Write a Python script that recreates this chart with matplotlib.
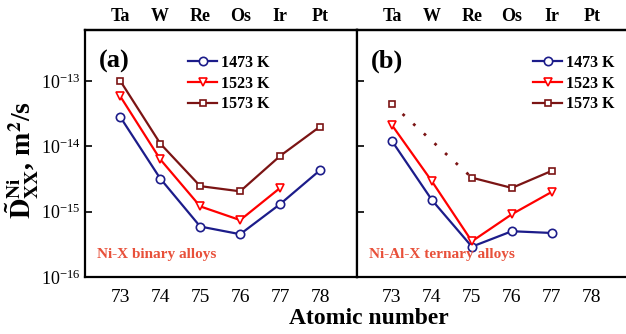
import matplotlib.pyplot as plt

plt.rcParams['font.family'] = ['Liberation Serif', 'DejaVu Serif']
plt.rcParams['mathtext.fontset'] = 'stix'

# atomic numbers and elements
z = [73, 74, 75, 76, 77, 78]
elements = ['Ta', 'W', 'Re', 'Os', 'Ir', 'Pt']

# (a) Ni-X binary alloys
bin_1473 = [2.8e-14, 3.2e-15, 5.9e-16, 4.5e-16, 1.3e-15, 4.3e-15]
bin_1523 = [5.8e-14, 6.3e-15, 1.2e-15, 7.4e-16, 2.3e-15]
bin_1573 = [1.0e-13, 1.1e-14, 2.45e-15, 2.04e-15, 7.1e-15, 2.0e-14]

# (b) Ni-Al-X ternary alloys
ter_1473 = [1.2e-14, 1.5e-15, 2.9e-16, 5.0e-16, 4.7e-16]
ter_1523 = [2.1e-14, 2.9e-15, 3.5e-16, 9.1e-16, 2.0e-15]
ter_1573_z = [75, 76, 77]
ter_1573 = [3.3e-15, 2.3e-15, 4.2e-15]
ter_1573_ta = 4.4e-14

c1 = '#1c1c8a'
c2 = '#ff0000'
c3 = '#7b1414'
txtc = '#e8503a'

fig = plt.figure(figsize=(6.26, 3.34), dpi=100)
ax1 = fig.add_axes([0.136, 0.171, 0.434, 0.739])
ax2 = fig.add_axes([0.570, 0.171, 0.434, 0.739])

st = dict(lw=1.6, ms=6, mew=1.2, mfc='white')
sq = dict(lw=1.6, ms=5, mew=1.2, mfc='white')

ax1.plot(z, bin_1473, '-o', color=c1, label='1473 K', **st)
ax1.plot(z[:5], bin_1523, '-v', color=c2, label='1523 K', **st)
ax1.plot(z, bin_1573, '-s', color=c3, label='1573 K', **sq)

ax2.plot(z[:5], ter_1473, '-o', color=c1, label='1473 K', **st)
ax2.plot(z[:5], ter_1523, '-v', color=c2, label='1523 K', **st)
ax2.plot(ter_1573_z, ter_1573, '-s', color=c3, label='1573 K', **sq)
ax2.plot([73, 75], [ter_1573_ta, ter_1573[0]], color=c3, lw=2, ls=(0, (1, 4.2)))
ax2.plot([73], [ter_1573_ta], 's', color=c3, ms=5, mew=1.2, mfc='white')

for ax, xa in ((ax1, 0.72), (ax2, 0.99)):
    ax.set_yscale('log')
    ax.set_xlim(72.12, 78.92)
    ax.set_ylim(1e-16, 6e-13)
    ax.set_xticks(z)
    ax.set_xticklabels([str(v) for v in z], fontsize=14)
    ax.set_yticks([1e-16, 1e-15, 1e-14, 1e-13])
    ax.minorticks_off()
    ax.tick_params(axis='y', direction='in', length=5, width=1.2, labelsize=13)
    ax.tick_params(axis='x', length=0, pad=9)
    for s in ax.spines.values():
        s.set_linewidth(1.6)
    top = ax.secondary_xaxis('top')
    top.set_xticks(z)
    top.set_xticklabels(elements, fontsize=13, fontweight='bold')
    top.tick_params(length=0, pad=4)
    top.spines['top'].set_linewidth(1.6)
    ax.legend(loc='upper right', bbox_to_anchor=(xa, 0.945), frameon=False,
              prop={'weight': 'bold', 'size': 11.5},
              handlelength=1.8, handletextpad=0.25, labelspacing=0.3,
              borderaxespad=0.3)

ax2.set_yticklabels([])

ax1.text(0.05, 0.85, '(a)', transform=ax1.transAxes, fontsize=19, fontweight='bold')
ax2.text(0.05, 0.85, '(b)', transform=ax2.transAxes, fontsize=19, fontweight='bold')
ax1.text(0.045, 0.075, 'Ni-X binary alloys', transform=ax1.transAxes,
         fontsize=11, fontweight='bold', color=txtc)
ax2.text(0.045, 0.075, 'Ni-Al-X ternary alloys', transform=ax2.transAxes,
         fontsize=11, fontweight='bold', color=txtc)

fig.text(0.036, 0.52, r'$\mathbf{\tilde{D}^{Ni}_{XX}}$, m$^{\mathbf{2}}$/s',
         rotation=90, ha='center', va='center', fontsize=20, fontweight='bold')
fig.text(0.59, 0.03, 'Atomic number', ha='center', fontsize=17, fontweight='bold')

fig.savefig('out.png', dpi=100)
